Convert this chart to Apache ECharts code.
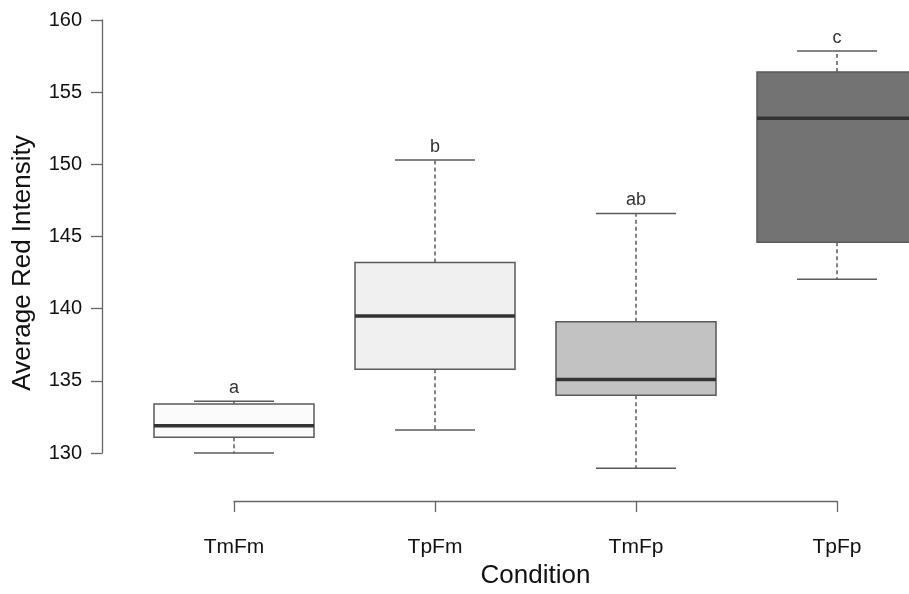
<!DOCTYPE html>
<html>
<head>
<meta charset="utf-8">
<script src="https://cdn.jsdelivr.net/npm/echarts@6/dist/echarts.min.js"></script>
<style>
  html, body { margin: 0; padding: 0; background: #fff; overflow: hidden; }
  #container { width: 909px; height: 594px; }
</style>
</head>
<body>
<div id="container"></div>
<script>
var categories = ['TmFm', 'TpFm', 'TmFp', 'TpFp'];
var whiskerLow  = [130.0, 131.6, 128.95, 142.05];
var q1          = [131.1, 135.8, 134.0, 144.6];
var median      = [131.9, 139.5, 135.1, 153.2];
var q3          = [133.4, 143.2, 139.1, 156.4];
var whiskerHigh = [133.6, 150.3, 146.6, 157.85];
var letters     = ['a', 'b', 'ab', 'c'];
var yMin = 130, yMax = 160, yStep = 5;

var fills = ['#fbfbfb', '#f0f0f0', '#c2c2c2', '#737373'];
var font = '"Liberation Sans", Arial, Helvetica, sans-serif';

var boxData = categories.map(function (c, i) {
    return [i, whiskerLow[i], q1[i], median[i], q3[i], whiskerHigh[i]];
});

var myChart = echarts.init(document.getElementById('container'));

function renderBox(params, api) {
    var i = api.value(0);
    var x = api.coord([i, api.value(3)])[0];
    var yLo = api.coord([i, api.value(1)])[1];
    var yQ1 = api.coord([i, api.value(2)])[1];
    var yMed = api.coord([i, api.value(3)])[1];
    var yQ3 = api.coord([i, api.value(4)])[1];
    var yHi = api.coord([i, api.value(5)])[1];
    var half = 80, cap = 40;
    var edge = '#5a5a5a';
    return {
        type: 'group',
        children: [
            // whiskers
            { type: 'line', shape: { x1: x, y1: yQ3, x2: x, y2: yHi },
              style: { stroke: edge, lineWidth: 1.5, lineDash: [4, 3] } },
            { type: 'line', shape: { x1: x, y1: yQ1, x2: x, y2: yLo },
              style: { stroke: edge, lineWidth: 1.5, lineDash: [4, 3] } },
            // caps
            { type: 'line', shape: { x1: x - cap, y1: yHi, x2: x + cap, y2: yHi },
              style: { stroke: edge, lineWidth: 1.5 } },
            { type: 'line', shape: { x1: x - cap, y1: yLo, x2: x + cap, y2: yLo },
              style: { stroke: edge, lineWidth: 1.5 } },
            // box
            { type: 'rect', shape: { x: x - half, y: yQ3, width: half * 2, height: yQ1 - yQ3 },
              style: { fill: fills[params.dataIndex], stroke: edge, lineWidth: 1.5 } },
            // median
            { type: 'line', shape: { x1: x - half, y1: yMed, x2: x + half, y2: yMed },
              style: { stroke: '#333', lineWidth: 3.5 } },
            // letter
            { type: 'text', x: x, y: yHi - 4,
              style: { text: letters[params.dataIndex], fill: '#333', font: '18px ' + font,
                       textAlign: 'center', textVerticalAlign: 'bottom' } }
        ]
    };
}

myChart.setOption({
    animation: false,
    backgroundColor: '#fff',
    grid: { left: 234, width: 603, top: 20, height: 440, containLabel: false },
    xAxis: {
        type: 'category',
        data: categories,
        boundaryGap: false,
        offset: 48,
        axisLine: { lineStyle: { color: '#666', width: 1.3 } },
        axisTick: { length: 11, lineStyle: { color: '#666', width: 1.3 } },
        axisLabel: { fontSize: 21, color: '#111', margin: 36, fontFamily: font },
        splitLine: { show: false },
        name: 'Condition',
        nameLocation: 'middle',
        nameGap: 56,
        nameTextStyle: { fontSize: 26, color: '#111', fontFamily: font }
    },
    yAxis: {
        type: 'value',
        min: yMin,
        max: yMax,
        interval: yStep,
        offset: 132,
        axisLine: { show: true, lineStyle: { color: '#666', width: 1.3 } },
        axisTick: { show: true, length: 11, lineStyle: { color: '#666', width: 1.3 } },
        axisLabel: { fontSize: 20, color: '#111', margin: 20, fontFamily: font },
        splitLine: { show: false }
    },
    graphic: [{
        type: 'text',
        x: 23, y: 263,
        rotation: Math.PI / 2,
        style: { text: 'Average Red Intensity', font: '26px ' + font, fill: '#111',
                 textAlign: 'center', textVerticalAlign: 'middle' }
    }],
    series: [{
        type: 'custom',
        clip: false,
        renderItem: renderBox,
        encode: { x: 0, y: [1, 2, 3, 4, 5] },
        data: boxData
    }]
});
</script>
</body>
</html>
